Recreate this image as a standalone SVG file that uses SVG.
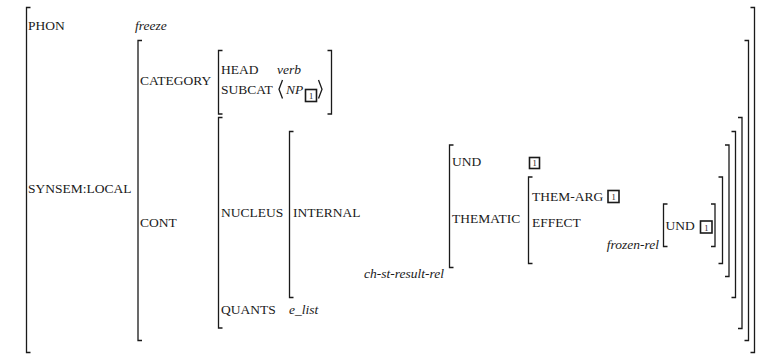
<svg xmlns="http://www.w3.org/2000/svg" width="763" height="354" viewBox="0 0 763 354">
<style>
.t{font-family:'Liberation Serif','DejaVu Serif',serif;font-size:13.5px;fill:#1a1a1a}
.i{font-style:italic}
.b{fill:none;stroke:#1a1a1a;stroke-width:1.3}
.box{fill:none;stroke:#1a1a1a;stroke-width:1.6}
.n{font-family:'Liberation Serif','DejaVu Serif',serif;font-size:8.5px;fill:#1a1a1a;text-anchor:middle}
</style>
<rect width="763" height="354" fill="#fff"/>
<g id="brackets">
<path class="b" d="M30.5 7.5H26.5V352.5H30.5"/>
<path class="b" d="M750.5 7.5H754.5V352.5H750.5"/>
<path class="b" d="M142 40.5H138V340.5H142"/>
<path class="b" d="M744.5 40.5H748.5V340.5H744.5"/>
<path class="b" d="M222.5 50.5H218.5V114H222.5"/>
<path class="b" d="M327.5 50.5H331.5V114H327.5"/>
<path class="b" d="M222.5 117.5H218.5V328H222.5"/>
<path class="b" d="M738 117.5H742V328.5H738"/>
<path class="b" d="M293.5 131.5H289.5V297.5H293.5"/>
<path class="b" d="M731.5 131.5H735.5V297.5H731.5"/>
<path class="b" d="M453.5 145H449.5V267.5H453.5"/>
<path class="b" d="M725 145H729V276.5H725"/>
<path class="b" d="M532.5 177H528.5V263.5H532.5"/>
<path class="b" d="M718.5 177H722.5V263.5H718.5"/>
<path class="b" d="M667.5 204H663.5V246.5H667.5"/>
<path class="b" d="M711 204H715V246.5H711"/>
<path class="b" d="M282.5 80L279 89.2L282.5 98.5"/>
<path class="b" d="M318.5 80L322 89.2L318.5 98.5"/>
</g>
<g id="phon">
<text class="t" x="28" y="30">PHON</text>
<text class="t i" x="135" y="30">freeze</text>
</g>
<g id="synsem">
<text class="t" x="28" y="193">SYNSEM:LOCAL</text>
</g>
<g id="category">
<text class="t" x="140" y="85">CATEGORY</text>
<text class="t" x="221" y="74">HEAD</text>
<text class="t i" x="277" y="74">verb</text>
<text class="t" x="221" y="94">SUBCAT</text>
<text class="t i" x="286" y="94">NP</text>
<rect class="box" x="305.5" y="89.5" width="11" height="12"/>
<text class="n" x="311" y="99">1</text>
</g>
<g id="cont">
<text class="t" x="140" y="227">CONT</text>
<text class="t" x="221" y="217">NUCLEUS</text>
<text class="t" x="293" y="217">INTERNAL</text>
<text class="t" x="221" y="314">QUANTS</text>
<text class="t i" x="289" y="314">e_list</text>
</g>
<g id="ch-st-result-rel">
<text class="t i" x="444" y="278" text-anchor="end">ch-st-result-rel</text>
<text class="t" x="452" y="166">UND</text>
<rect class="box" x="529.5" y="157.5" width="10" height="11"/>
<text class="n" x="534.5" y="166">1</text>
<text class="t" x="452" y="223">THEMATIC</text>
</g>
<g id="thematic">
<text class="t" x="532" y="201">THEM-ARG</text>
<rect class="box" x="608" y="190.5" width="11" height="12"/>
<text class="n" x="613.5" y="200">1</text>
<text class="t" x="532" y="227">EFFECT</text>
</g>
<g id="frozen-rel">
<text class="t i" x="659" y="249" text-anchor="end">frozen-rel</text>
<text class="t" x="665.5" y="230">UND</text>
<rect class="box" x="700.5" y="221" width="11.5" height="12"/>
<text class="n" x="706.25" y="230.5">1</text>
</g>
</svg>
